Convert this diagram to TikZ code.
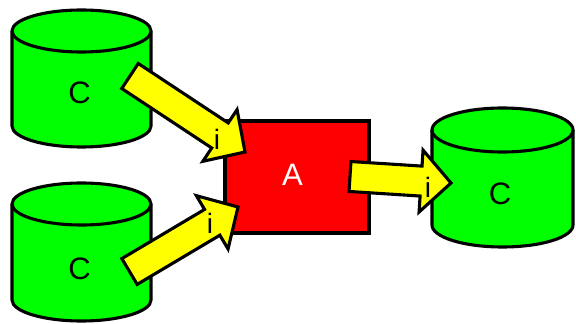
\documentclass[tikz,border=0pt]{standalone}
\usepackage{fontspec}
\setmainfont{Liberation Sans}
\usetikzlibrary{calc}
\definecolor{cgreen}{RGB}{0,255,0}
\definecolor{cred}{RGB}{255,0,0}
\definecolor{cyellow}{RGB}{255,255,0}
\tikzset{
  outline/.style={draw=black, line width=3.1pt},
  cylfill/.style={outline, fill=cgreen},
  boxstyle/.style={outline, fill=cred, minimum width=144pt, minimum height=112pt, inner sep=0pt},
  lbl/.style={inner sep=0pt, font=\fontsize{31}{31}\selectfont},
  ilbl/.style={inner sep=0pt, font=\fontsize{28}{28}\selectfont},
  blockarrow/.style={outline, fill=cyellow, line join=miter},
}
% #1 x0, #2 x1, #3 rx, #4 y top-ellipse centre, #5 y bottom-ellipse centre, #6 ry
\newcommand\drawcyl[6]{%
  \path[cylfill] (#1,#4) -- (#1,#5) arc[start angle=180,end angle=360,x radius=#3,y radius=#6]
    -- (#2,#4) arc[start angle=0,end angle=180,x radius=#3,y radius=#6] -- cycle;
  \draw[outline] (#1,#4) arc[start angle=180,end angle=360,x radius=#3,y radius=#6];}
% #1 tail coordinate, #2 tip coordinate
\newcommand\fatarrow[2]{%
  \coordinate (#1#2base) at ($(#2)!30pt!(#1)$);
  \draw[blockarrow] ($(#1)!15pt!90:(#2)$) -- ($(#1#2base)!15pt!90:(#2)$)
    -- ($(#1#2base)!31pt!90:(#2)$) -- (#2) -- ($(#1#2base)!31pt!-90:(#2)$)
    -- ($(#1#2base)!15pt!-90:(#2)$) -- ($(#1)!15pt!-90:(#2)$) -- cycle;}
\begin{document}
\begin{tikzpicture}[x=1pt,y=1pt]
\useasboundingbox (0,0) rectangle (576,324);
% cylinders
\drawcyl{12}{151}{69.5}{293}{198}{21}
\drawcyl{12}{151}{69.5}{120}{24}{21}
\drawcyl{432}{573}{70.5}{194}{99}{22}
\node[lbl] (c1) at (79.5,231) {C};
\node[lbl] (c2) at (79.5,55) {C};
\node[lbl] (c3) at (500,130.5) {C};
% process box
\node[boxstyle] (a) at (297,147) {};
\node[lbl, text=white] (alabel) at ($(a.center)+(-4.5,2)$) {A};
% arrows
\coordinate (t1) at (130,248);
\coordinate (h1) at (245,172);
\coordinate (t2) at (129.5,52.5);
\coordinate (h2) at (238,117);
\coordinate (t3) at (350,147.5);
\coordinate (h3) at (451,141);
\fatarrow{t1}{h1}
\fatarrow{t2}{h2}
\fatarrow{t3}{h3}
\node[ilbl] (i1) at (217,185) {i};
\node[ilbl] (i2) at (210,101) {i};
\node[ilbl] (i3) at (428,137) {i};
\end{tikzpicture}
\end{document}
